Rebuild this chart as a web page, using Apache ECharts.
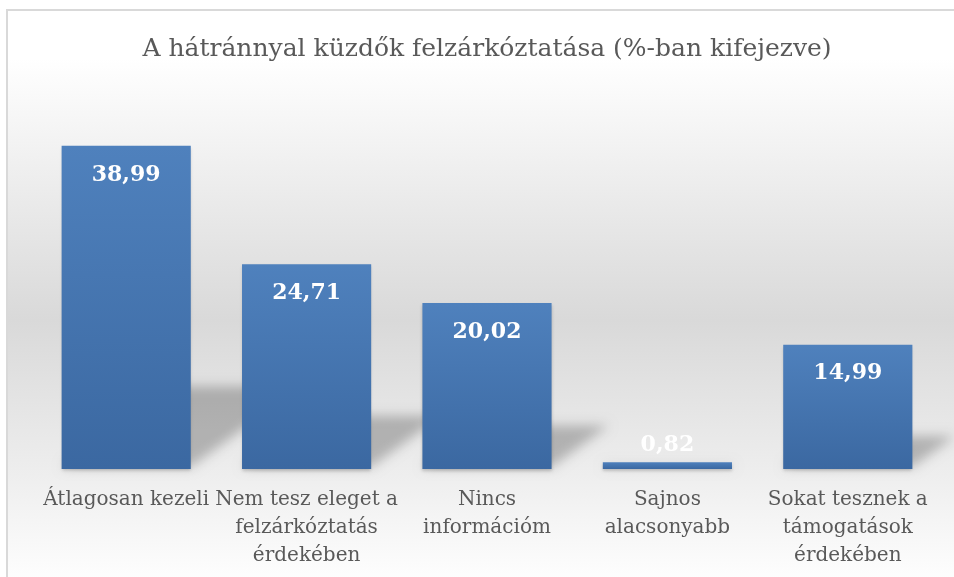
<!DOCTYPE html>
<html>
<head>
<meta charset="utf-8">
<script src="https://cdn.jsdelivr.net/npm/echarts@6/dist/echarts.min.js"></script>
<style>
html,body{margin:0;padding:0;background:#fff;}
#c{width:954px;height:577px;}
</style>
</head>
<body>
<div id="c"></div>
<script>
const titleText = 'A hátránnyal küzdők felzárkóztatása (%-ban kifejezve)';
const categories = [
  'Átlagosan kezeli',
  'Nem tesz eleget a\nfelzárkóztatás\nérdekében',
  'Nincs\ninformációm',
  'Sajnos\nalacsonyabb',
  'Sokat tesznek a\ntámogatások\nérdekében'
];
const values = [38.99, 24.71, 20.02, 0.82, 14.99];

const FONT = 'DejaVu Serif';
const chart = echarts.init(document.getElementById('c'), null, {renderer: 'canvas'});

const barData = values.map(function (v) {
  const item = {value: v};
  if (v < 5) {
    item.label = {position: 'top', distance: 6};
  }
  return item;
});

const SHIFT = 2000;

const option = {
  animation: false,
  backgroundColor: '#ffffff',
  graphic: [{
    type: 'rect',
    z: -10,
    silent: true,
    shape: {x: 7, y: 10, width: 980, height: 620},
    style: {
      fill: new echarts.graphic.LinearGradient(0, 0, 0, 1, [
        {offset: 0, color: '#ffffff'},
        {offset: 0.08, color: '#ffffff'},
        {offset: 0.5, color: '#d9d9d9'},
        {offset: 0.75, color: '#eeeeee'},
        {offset: 0.93, color: '#ffffff'},
        {offset: 1, color: '#ffffff'}
      ]),
      stroke: '#d9d9d9',
      lineWidth: 2
    }
  }],
  title: {
    text: titleText,
    left: 482,
    textAlign: 'center',
    top: 32,
    textStyle: {fontFamily: FONT, fontWeight: 'normal', fontSize: 25, color: '#595959'}
  },
  grid: {left: 36, right: 16, top: 96, bottom: 108, containLabel: false, outerBoundsMode: 'none'},
  xAxis: {
    type: 'category',
    data: categories,
    axisLine: {show: false},
    axisTick: {show: false},
    axisLabel: {
      interval: 0,
      margin: 17,
      fontFamily: FONT,
      fontSize: 20,
      lineHeight: 28,
      color: '#595959'
    }
  },
  yAxis: {type: 'value', min: 0, max: 45, show: false, splitLine: {show: false}},
  series: [
    {
      type: 'custom',
      z: 1,
      silent: true,
      data: values.map(function (v, i) { return [i, v]; }),
      renderItem: function (params, api) {
        const idx = api.value(0);
        const v = api.value(1);
        const base = api.coord([idx, 0]);
        const top = api.coord([idx, v]);
        const band = api.size([1, 0])[0];
        const hw = band * 0.358;
        const h = base[1] - top[1];
        const s = h * 0.25;
        const dx = s / 0.73;
        const xL = base[0] - hw - SHIFT, xR = base[0] + hw - SHIFT, y0 = base[1] - 2;
        return {
          type: 'polygon',
          shape: {points: [[xL, y0], [xR, y0], [xR + dx, y0 - s], [xL + dx, y0 - s]]},
          style: {
            fill: '#000',
            shadowBlur: 12,
            shadowOffsetX: SHIFT,
            shadowColor: 'rgba(0,0,0,0.24)'
          }
        };
      }
    },
    {
      type: 'bar',
      z: 3,
      data: barData,
      barCategoryGap: '28.4%',
      itemStyle: {
        color: new echarts.graphic.LinearGradient(0, 0, 0, 1, [
          {offset: 0, color: '#4f81bd'},
          {offset: 1, color: '#3b68a1'}
        ]),
        shadowColor: 'rgba(0,0,0,0.18)',
        shadowBlur: 3,
        shadowOffsetY: 2
      },
      label: {
        show: true,
        position: 'insideTop',
        distance: 18,
        fontFamily: FONT,
        fontWeight: 'bold',
        fontSize: 22,
        color: '#ffffff',
        formatter: function (p) { return p.value.toFixed(2).replace('.', ','); }
      }
    }
  ]
};
chart.setOption(option);
</script>
</body>
</html>
